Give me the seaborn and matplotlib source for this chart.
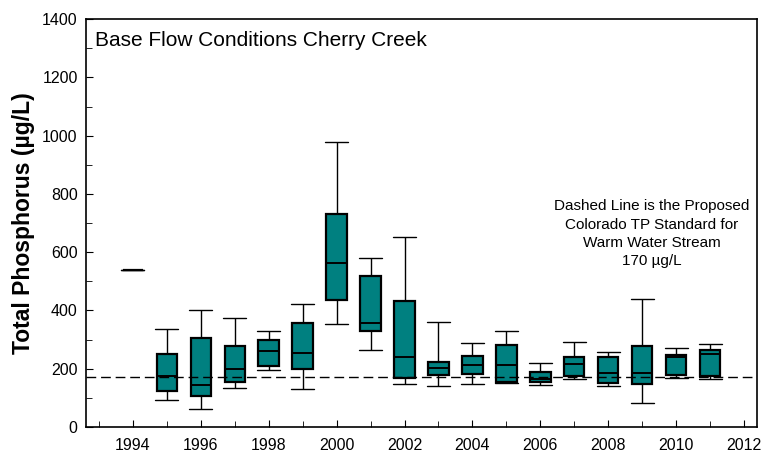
import seaborn as sns
import matplotlib.pyplot as plt
import matplotlib.ticker as mticker
import pandas as pd
import numpy as np

# Box statistics (ug/L)
years = [1994, 1995, 1996, 1997, 1998, 1999, 2000, 2001, 2002,
         2003, 2004, 2005, 2006, 2007, 2008, 2009, 2010, 2011]
wh_low = [540, 93, 63, 134, 195, 129, 353, 266, 148,
          142, 147, 150, 144, 165, 141, 81, 169, 165]
q1 = [540, 123, 106, 153, 208, 200, 437, 329, 168,
      177, 183, 153, 155, 174, 151, 146, 177, 174]
median = [540, 174, 144, 200, 261, 255, 562, 357, 240,
          204, 214, 214, 166, 218, 186, 187, 239, 250]
q3 = [540, 252, 307, 278, 300, 358, 732, 517, 432,
      224, 245, 281, 190, 240, 240, 278, 247, 263]
wh_high = [540, 336, 402, 375, 328, 422, 977, 579, 652,
           362, 289, 329, 221, 293, 257, 441, 270, 284]

standard_tp = 170


def build_frame():
    rows = []
    for i, yr in enumerate(years):
        vals = {wh_low[i], q1[i], median[i], q3[i], wh_high[i]}
        if len(vals) == 1:
            rows.append((yr, median[i]))
        else:
            for v in (wh_low[i], q1[i], median[i], q3[i], wh_high[i]):
                rows.append((yr, v))
    return pd.DataFrame(rows, columns=["year", "tp"])


def create_chart():
    sns.set_style("ticks")
    plt.rcParams["font.family"] = ["Liberation Sans", "DejaVu Sans"]
    plt.rcParams["text.color"] = "black"
    plt.rcParams["axes.labelcolor"] = "black"
    plt.rcParams["xtick.color"] = "black"
    plt.rcParams["ytick.color"] = "black"

    df = build_frame()

    fig = plt.figure(figsize=(7.61, 4.57), dpi=100)
    ax = fig.add_axes([0.113, 0.0656, 0.8817, 0.8924])

    sns.boxplot(
        data=df, x="year", y="tp", native_scale=True,
        whis=(0, 100), width=0.6, color="#008080", saturation=1,
        linecolor="black", linewidth=1.6,
        capwidths=0.68,
        whiskerprops=dict(linewidth=1.0, color="black"),
        capprops=dict(linewidth=1.0, color="black"),
        medianprops=dict(linewidth=1.4, color="black"),
        ax=ax,
    )

    ax.axhline(standard_tp, color="black", lw=1.0, ls=(0, (7, 3.5)), zorder=5)

    ax.set_xlim(1992.62, 2012.38)
    ax.set_ylim(0, 1400)
    ax.xaxis.set_major_locator(mticker.MultipleLocator(2))
    ax.xaxis.set_minor_locator(mticker.MultipleLocator(1))
    ax.yaxis.set_major_locator(mticker.MultipleLocator(200))
    ax.yaxis.set_minor_locator(mticker.MultipleLocator(100))
    ax.tick_params(which="both", direction="in", labelsize=11.5, color="black")
    ax.tick_params(axis="x", which="major", length=5, pad=8)
    ax.tick_params(axis="x", which="minor", length=4)
    ax.tick_params(axis="y", which="major", length=5, pad=6)
    ax.tick_params(axis="y", which="minor", length=4)
    for s in ax.spines.values():
        s.set_visible(True)
        s.set_color("black")
        s.set_linewidth(1.2)

    ax.set_xlabel("")
    ax.set_ylabel("Total Phosphorus (µg/L)", fontsize=16.5, fontweight="bold",
                  labelpad=5)

    ax.text(0.013, 0.948, "Base Flow Conditions Cherry Creek",
            transform=ax.transAxes, fontsize=15, ha="left", va="center")
    ax.text(0.843, 0.474,
            "Dashed Line is the Proposed\nColorado TP Standard for\n"
            "Warm Water Stream\n170 µg/L",
            transform=ax.transAxes, fontsize=11, ha="center", va="center",
            multialignment="center", linespacing=1.38)

    plt.savefig("out.png", dpi=100)
    plt.close()


if __name__ == "__main__":
    create_chart()
